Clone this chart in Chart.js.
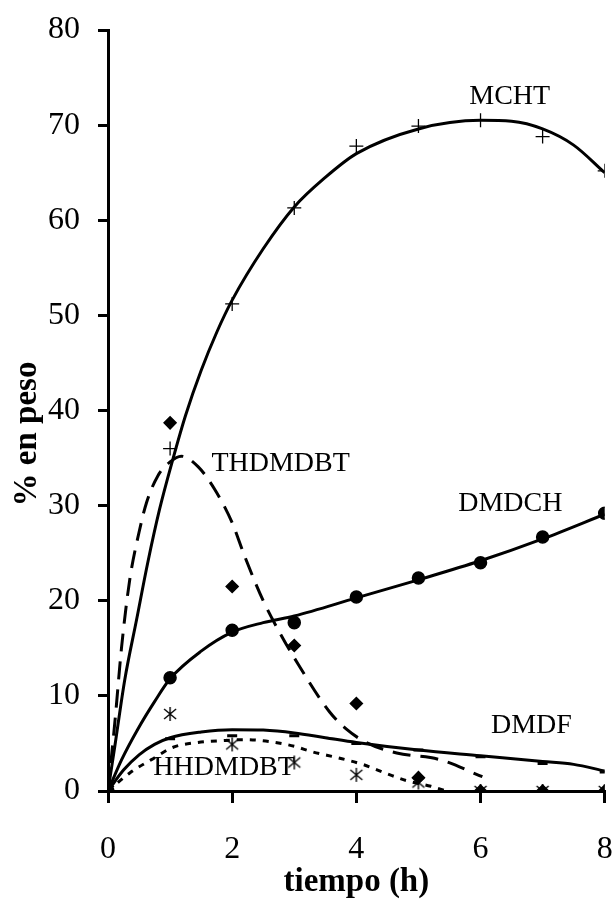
<!DOCTYPE html>
<html>
<head>
<meta charset="utf-8">
<script src="https://cdn.jsdelivr.net/npm/chart.js@4.4.1/dist/chart.umd.min.js"></script>
<style>
  html, body { margin: 0; padding: 0; background: #fff; }
  #wrap { width: 613px; height: 900px; }
</style>
</head>
<body>
<div id="wrap"><canvas id="myChart" width="613" height="900"></canvas></div>
<script>
// measured points (h vs % en peso)
const hours = [0, 1, 2, 3, 4, 5, 6, 7, 8];
const mcht = [0, 36.0, 51.2, 61.3, 67.8, 69.9, 70.5, 68.8, 65.2];
const thdmdbt = [0, 38.7, 21.5, 15.3, 9.2, 1.4, 0, 0, 0];
const dmdch = [0, 11.9, 16.9, 17.7, 20.4, 22.4, 24.0, 26.7, 29.2];
const dmdf = [0, 5.5, 5.8, 5.8, 5.0, 4.3, 3.6, 2.9, 2.0];
const hhdmdbt = [0, 8.1, 4.9, 3.0, 1.7, 0.9, 0, 0, 0];

// fitted trend curves
const mchtCurveX = [0, 0.11, 0.27, 0.46, 0.64, 0.83, 1.05, 1.25, 1.5, 1.75, 2, 2.5, 3, 3.5, 4, 5, 6, 6.5, 7, 7.5, 8];
const mchtCurveY = [0, 4.7, 11.7, 18.0, 24.0, 29.6, 35.0, 39.5, 44.2, 48.2, 51.6, 57.0, 61.4, 64.5, 67.0, 69.6, 70.5, 70.4, 69.6, 67.9, 65.0];
const thdmdbtCurveX = [0, 0.11, 0.22, 0.35, 0.5, 0.62, 0.8, 1, 1.18, 1.45, 1.72, 2, 2.2, 2.5, 2.77, 3, 3.57, 3.84, 4.16, 4.65, 5.34, 6.03];
const thdmdbtCurveY = [0, 7.2, 15.2, 22.2, 27.2, 30.3, 33.1, 34.6, 35.2, 34.1, 31.7, 28.2, 24.7, 20.0, 16.6, 14.0, 8.3, 6.5, 5.1, 4.0, 3.3, 1.5];
const dmdchCurveX = [0, 0.22, 0.48, 0.75, 1, 1.5, 2, 2.5, 3, 4, 5, 6, 7, 8];
const dmdchCurveY = [0, 3.3, 6.5, 9.4, 11.8, 14.7, 16.7, 17.7, 18.4, 20.3, 22.2, 24.2, 26.5, 29.1];
const dmdfCurveX = [0, 0.25, 0.5, 0.75, 1, 1.5, 2, 2.5, 3, 3.5, 4, 5, 6, 7, 7.5, 8];
const dmdfCurveY = [0, 2.2, 3.8, 4.9, 5.6, 6.2, 6.45, 6.4, 6.1, 5.6, 5.1, 4.3, 3.7, 3.1, 2.8, 2.1];
const hhdmdbtCurveX = [0, 0.35, 0.7, 1.05, 1.45, 1.85, 2.2, 2.6, 3, 3.3, 3.7, 4.1, 4.5, 4.8, 5.2, 5.45];
const hhdmdbtCurveY = [0, 1.9, 3.3, 4.6, 5.1, 5.3, 5.4, 5.2, 4.7, 4.1, 3.5, 2.8, 1.8, 1.1, 0.5, 0];

// series labels written inside the plot
const seriesNames = ['MCHT', 'THDMDBT', 'DMDCH', 'DMDF', 'HHDMDBT'];
const labelX = [6.47, 2.78, 6.48, 6.82, 1.87];
const labelY = [73.0, 34.4, 30.2, 6.9, 2.5];

const yTicks = [0, 10, 20, 30, 40, 50, 60, 70, 80];
const xTicks = [0, 2, 4, 6, 8];

const FONT = "'Liberation Serif', 'DejaVu Serif', serif";

function pts(xs, ys) {
  return xs.map((x, i) => ({ x: x, y: ys[i] }));
}

// six-armed asterisk marker
function asterisk() {
  const c = document.createElement('canvas');
  c.width = 16; c.height = 16;
  const g = c.getContext('2d');
  g.strokeStyle = '#000';
  g.lineWidth = 1.4;
  g.beginPath();
  g.moveTo(8, 1); g.lineTo(8, 15);
  g.moveTo(2, 3); g.lineTo(14, 13);
  g.moveTo(14, 3); g.lineTo(2, 13);
  g.stroke();
  return c;
}

function markers(ys, style, extra) {
  return Object.assign({
    data: pts(hours, ys),
    showLine: false,
    pointStyle: style,
    pointRadius: 6,
    pointBorderColor: '#000',
    pointBackgroundColor: '#000',
    pointBorderWidth: 1.5
  }, extra || {});
}

function curve(xs, ys, dash) {
  return {
    data: pts(xs, ys),
    showLine: true,
    borderColor: '#000',
    borderWidth: 3,
    borderDash: dash,
    pointRadius: 0,
    cubicInterpolationMode: 'monotone',
    fill: false
  };
}

const textPlugin = {
  id: 'textPlugin',
  afterDraw(chart) {
    const ctx = chart.ctx;
    const xs = chart.scales.x, ys = chart.scales.y;
    ctx.save();
    ctx.fillStyle = '#000';
    ctx.textAlign = 'center';
    ctx.textBaseline = 'middle';
    ctx.font = '28px ' + FONT;
    seriesNames.forEach((name, i) => {
      ctx.fillText(name, xs.getPixelForValue(labelX[i]), ys.getPixelForValue(labelY[i]));
    });
    // axis titles
    ctx.font = 'bold 33px ' + FONT;
    ctx.fillText('tiempo (h)', (chart.chartArea.left + chart.chartArea.right) / 2, 882);
    ctx.translate(27, 434);
    ctx.rotate(-Math.PI / 2);
    ctx.fillText('% en peso', 0, 0);
    ctx.restore();
  }
};

function createChart() {
  const ctx = document.getElementById('myChart').getContext('2d');
  new Chart(ctx, {
    type: 'scatter',
    data: {
      datasets: [
        markers(mcht, 'cross', { pointRadius: 7, pointBorderWidth: 1.3 }),
        markers(thdmdbt, 'rectRot', { pointRadius: 6 }),
        markers(dmdch, 'circle', { pointRadius: 6 }),
        markers(dmdf, 'line', { pointRadius: 5, pointBorderWidth: 3 }),
        markers(hhdmdbt, asterisk()),
        curve(mchtCurveX, mchtCurveY, []),
        curve(thdmdbtCurveX, thdmdbtCurveY, [18, 10]),
        curve(dmdchCurveX, dmdchCurveY, []),
        curve(dmdfCurveX, dmdfCurveY, []),
        curve(hhdmdbtCurveX, hhdmdbtCurveY, [6, 7])
      ]
    },
    options: {
      responsive: false,
      animation: false,
      layout: { padding: { left: 0, right: 8, top: 30, bottom: 0 } },
      plugins: {
        legend: { display: false },
        tooltip: { enabled: false }
      },
      scales: {
        x: {
          type: 'linear',
          min: 0,
          max: 8,
          afterBuildTicks: (s) => { s.ticks = xTicks.map(v => ({ value: v })); },
          afterFit: (s) => { s.height = 109; s.paddingLeft = 0; s.paddingRight = 0; },
          ticks: { color: '#000', font: { family: FONT, size: 32 }, padding: 27, maxRotation: 0 },
          grid: { drawOnChartArea: false, drawTicks: true, tickLength: 12, lineWidth: 3, color: '#000' },
          border: { color: '#000', width: 3 }
        },
        y: {
          min: 0,
          max: 80,
          afterBuildTicks: (s) => { s.ticks = yTicks.map(v => ({ value: v })); },
          afterFit: (s) => { s.width = 108; s.paddingTop = 0; s.paddingBottom = 0; },
          ticks: { color: '#000', font: { family: FONT, size: 32 }, padding: 18 },
          grid: { drawOnChartArea: false, drawTicks: true, tickLength: 10, lineWidth: 3, color: '#000' },
          border: { color: '#000', width: 3 }
        }
      }
    },
    plugins: [textPlugin]
  });
}

createChart();
</script>
</body>
</html>
